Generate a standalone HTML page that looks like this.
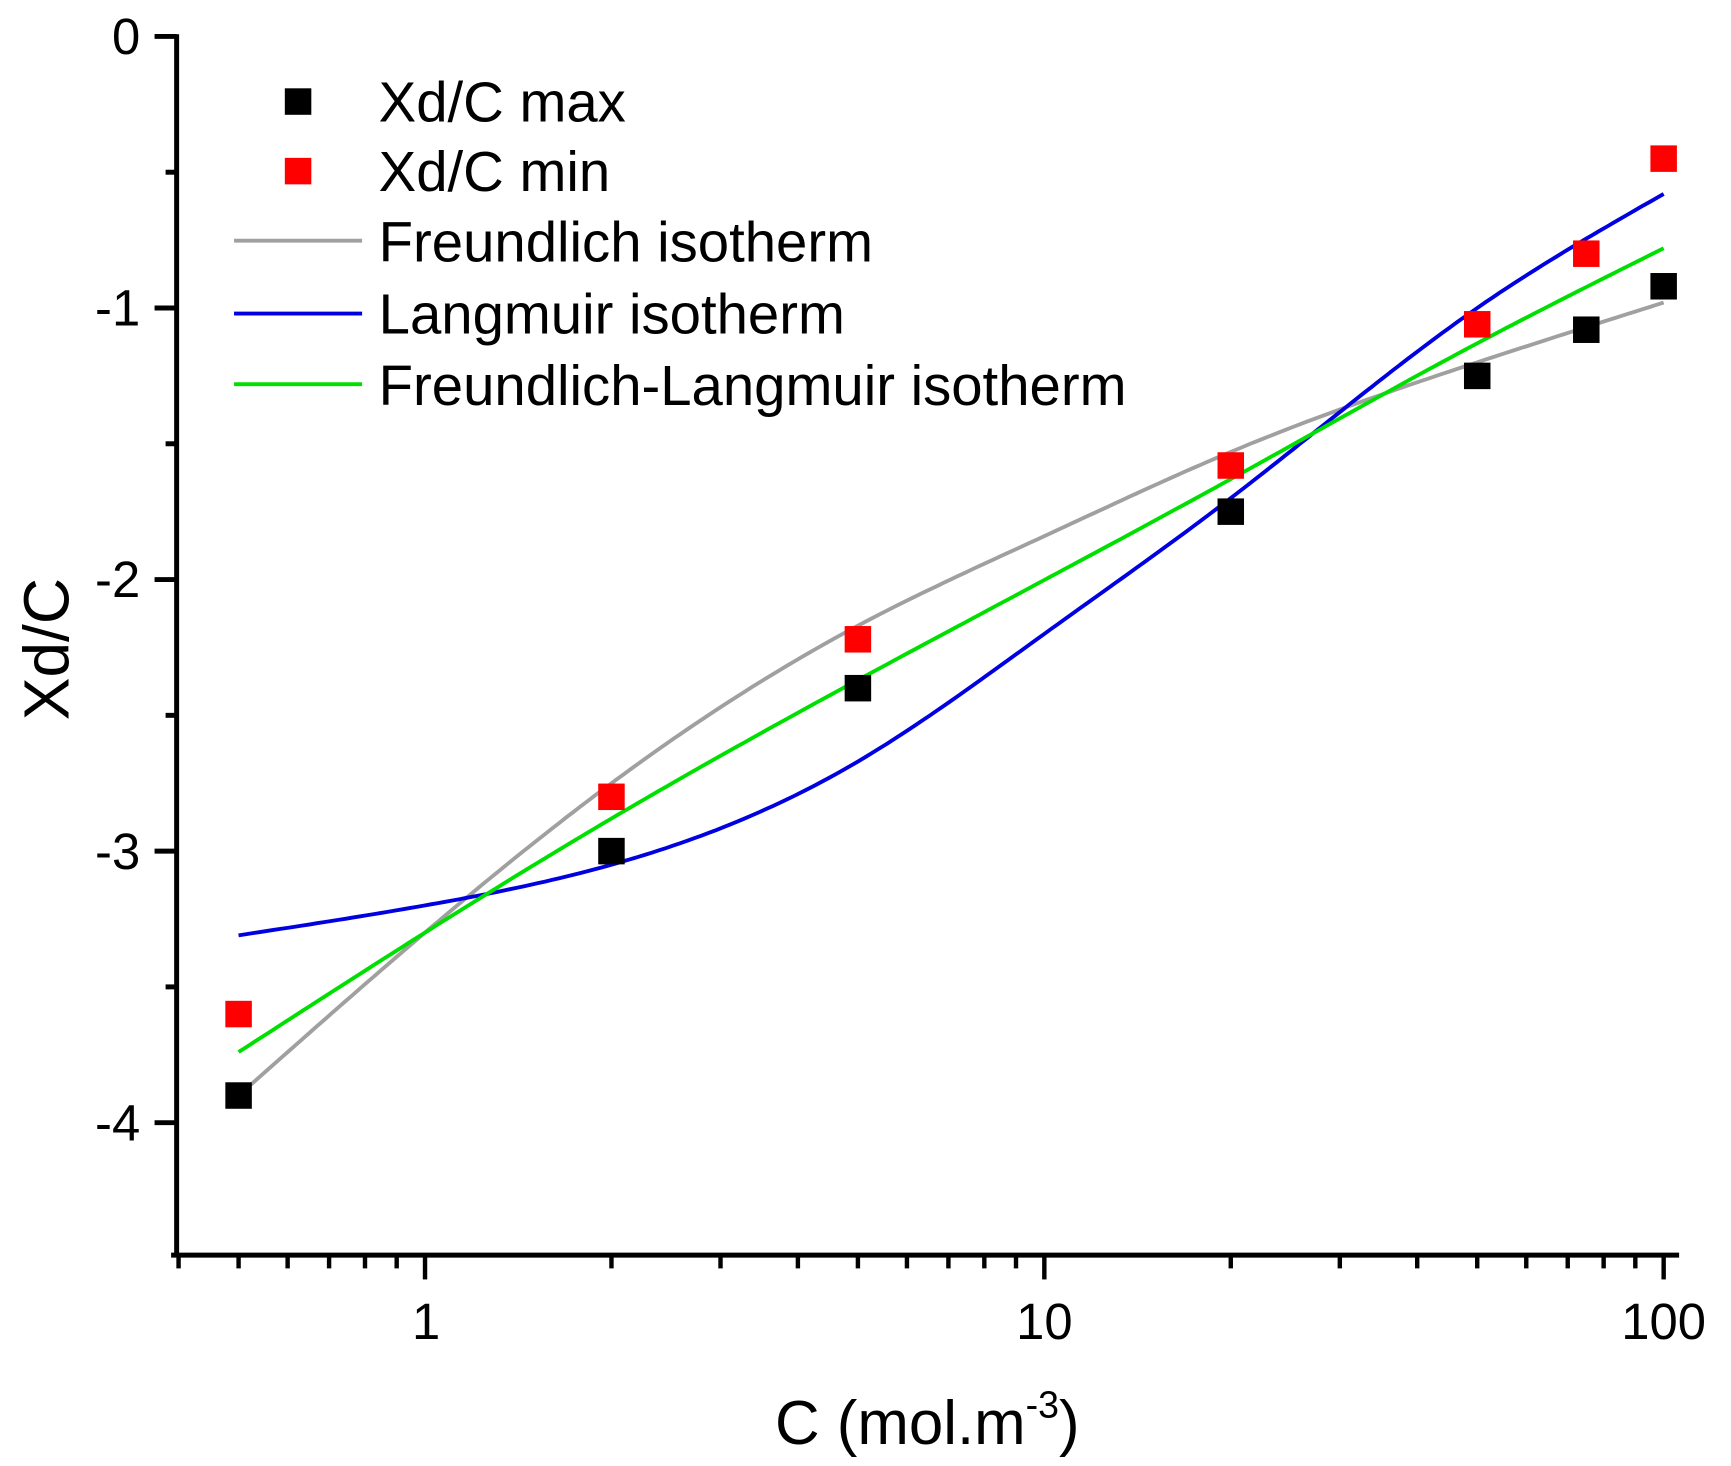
<!DOCTYPE html>
<html><head><meta charset="utf-8"><style>
html,body{margin:0;padding:0;background:#fff}
svg{display:block}
text{font-family:"Liberation Sans",sans-serif;fill:#000}
</style></head><body>
<svg id="s" width="1731" height="1466" viewBox="0 0 1568 1328" preserveAspectRatio="none" xmlns="http://www.w3.org/2000/svg">
<g id="axes" stroke="#000" stroke-width="4.5" fill="none">
<line x1="160" y1="31" x2="160" y2="1139"/>
<line x1="155" y1="1137" x2="1521" y2="1137"/>
<line x1="140" y1="33" x2="160" y2="33"/>
<line x1="140" y1="279" x2="160" y2="279"/>
<line x1="140" y1="525" x2="160" y2="525"/>
<line x1="140" y1="771" x2="160" y2="771"/>
<line x1="140" y1="1017" x2="160" y2="1017"/>
<line x1="150" y1="156" x2="160" y2="156"/>
<line x1="150" y1="402" x2="160" y2="402"/>
<line x1="150" y1="648" x2="160" y2="648"/>
<line x1="150" y1="894" x2="160" y2="894"/>
</g>
<g id="xt" stroke="#000" stroke-width="4" fill="none"></g>
<g font-size="46" text-anchor="end">
<text x="127" y="49">0</text>
<text x="127" y="295">-1</text>
<text x="127" y="541">-2</text>
<text x="127" y="787">-3</text>
<text x="127" y="1033">-4</text>
</g>
<g font-size="46" text-anchor="middle">
<text x="386" y="1213">1</text>
<text x="946" y="1213">10</text>
<text x="1507" y="1213">100</text>
</g>
<text x="840" y="1308" font-size="56" text-anchor="middle">C (mol.m<tspan dy="-24" font-size="34">-3</tspan><tspan dy="24">)</tspan></text>
<text transform="translate(62,588) rotate(-90)" font-size="58" text-anchor="middle">Xd/C</text>
<g id="curves" fill="none" stroke-width="3.5"></g>
<g id="pts"></g>
<g font-size="51">
<rect x="258" y="80" width="24" height="24" fill="#000"/>
<rect x="258" y="143" width="24" height="24" fill="#f00"/>
<line x1="212" y1="218" x2="328" y2="218" stroke="#a0a0a0" stroke-width="3.5"/>
<line x1="212" y1="284" x2="328" y2="284" stroke="#0000e0" stroke-width="3.5"/>
<line x1="212" y1="348" x2="328" y2="348" stroke="#00e000" stroke-width="3.5"/>
<text x="343" y="110">Xd/C max</text>
<text x="343" y="173">Xd/C min</text>
<text x="343" y="237">Freundlich isotherm</text>
<text x="343" y="302">Langmuir isotherm</text>
<text x="343" y="367">Freundlich-Langmuir isotherm</text>
</g>
</svg>
<script>
var NS="http://www.w3.org/2000/svg";
function X(c){return 385+561*Math.log10(c);}
function XU(u){return 385+561*u;}
function Y(v){return 33-246*v;}
var xt=document.getElementById("xt");
function tk(c,len){var l=document.createElementNS(NS,"line");l.setAttribute("x1",X(c));l.setAttribute("x2",X(c));l.setAttribute("y1",1137);l.setAttribute("y2",1137+len);xt.appendChild(l);}
[0.4,0.5,0.6,0.7,0.8,0.9,2,3,4,5,6,7,8,9,20,30,40,50,60,70,80,90].forEach(function(c){tk(c,12);});
[1,10,100].forEach(function(c){tk(c,22);});
function spline(xs,ys){
 var n=xs.length,h=[],a=[],l=[1],mu=[0],z=[0],c=new Array(n).fill(0),b=[],d=[];
 for(var i=0;i<n-1;i++)h.push(xs[i+1]-xs[i]);
 for(i=1;i<n-1;i++)a[i]=3/h[i]*(ys[i+1]-ys[i])-3/h[i-1]*(ys[i]-ys[i-1]);
 for(i=1;i<n-1;i++){l[i]=2*(xs[i+1]-xs[i-1])-h[i-1]*mu[i-1];mu[i]=h[i]/l[i];z[i]=(a[i]-h[i-1]*z[i-1])/l[i];}
 l[n-1]=1;z[n-1]=0;
 for(var j=n-2;j>=0;j--){c[j]=z[j]-mu[j]*c[j+1];b[j]=(ys[j+1]-ys[j])/h[j]-h[j]*(c[j+1]+2*c[j])/3;d[j]=(c[j+1]-c[j])/(3*h[j]);}
 return function(x){var k=0;while(k<n-2&&x>xs[k+1])k++;var t=x-xs[k];return ys[k]+b[k]*t+c[k]*t*t+d[k]*t*t*t;};
}
function path(pts,col){
 var xs=pts.map(function(p){return Math.log10(p[0]);}),ys=pts.map(function(p){return p[1];});
 var f=spline(xs,ys),d="";
 for(var i=0;i<=200;i++){var u=xs[0]+(xs[xs.length-1]-xs[0])*i/200;d+=(i?"L":"M")+XU(u).toFixed(1)+","+Y(f(u)).toFixed(1);}
 var e=document.createElementNS(NS,"path");e.setAttribute("d",d);e.setAttribute("stroke",col);
 document.getElementById("curves").appendChild(e);
}
path([[0.5,-3.9],[1,-3.3],[2,-2.75],[5,-2.17],[10,-1.84],[20,-1.53],[50,-1.2],[100,-0.98]],"#a0a0a0");
path([[0.5,-3.31],[1,-3.2],[2,-3.05],[5,-2.67],[10,-2.2],[20,-1.7],[50,-1.0],[100,-0.58]],"#0000e0");
path([[0.5,-3.74],[1,-3.3],[2,-2.88],[5,-2.37],[20,-1.63],[50,-1.13],[100,-0.78]],"#00e000");
function pt(c,v,col){var r=document.createElementNS(NS,"rect");r.setAttribute("x",X(c)-12);r.setAttribute("y",Y(v)-12);r.setAttribute("width",24);r.setAttribute("height",24);r.setAttribute("fill",col);document.getElementById("pts").appendChild(r);}
[[0.5,-3.9],[2,-3.0],[5,-2.4],[20,-1.75],[50,-1.25],[75,-1.08],[100,-0.92]].forEach(function(a){pt(a[0],a[1],"#000");});
[[0.5,-3.6],[2,-2.8],[5,-2.22],[20,-1.58],[50,-1.06],[75,-0.8],[100,-0.45]].forEach(function(a){pt(a[0],a[1],"#f00");});
</script>
</body></html>
